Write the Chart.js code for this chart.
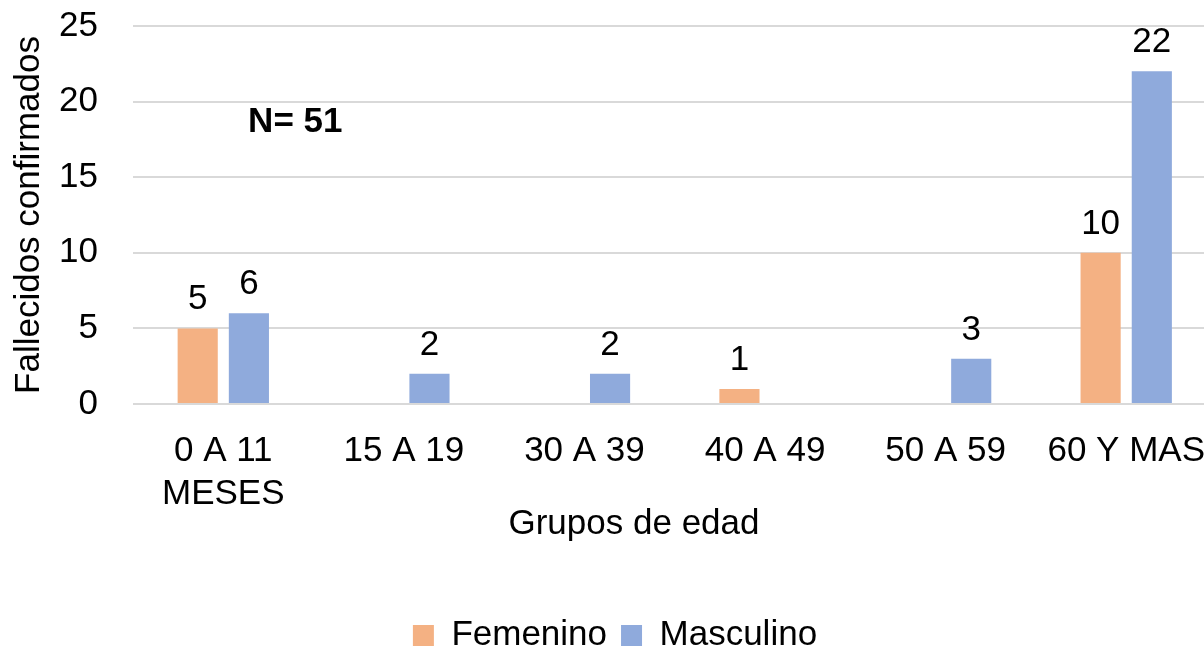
<!DOCTYPE html>
<html lang="es">
<head>
    <meta charset="UTF-8">
    <title>Fallecidos por grupos de edad</title>
    <script src="https://cdn.jsdelivr.net/npm/chart.js@4.4.0/dist/chart.umd.min.js"></script>
    <style>
        body { margin: 0; overflow: hidden; background: #fff; }
        #wrap { width: 1222px; height: 649px; }
    </style>
</head>
<body>
    <div id="wrap">
        <canvas id="grafico" width="1222" height="649"></canvas>
    </div>

    <script>
        // datos
        const grupos = [['0 A 11', 'MESES'], '15 A 19', '30 A 39', '40 A 49', '50 A 59', '60 Y MAS'];
        const femenino = [5, null, null, 1, null, 10];
        const masculino = [6, 2, 2, null, 3, 22];
        const ticksY = [0, 5, 10, 15, 20, 25];
        const nota = 'N= 51';
        const tituloX = 'Grupos de edad';
        const tituloY = 'Fallecidos confirmados';

        const fuente = '"Liberation Sans Narrow", "Arial Narrow", "Liberation Sans", sans-serif';
        const tam = 35;

        // etiquetas encima de las barras + nota N y titulo del eje x
        const etiquetas = {
            id: 'etiquetas',
            afterDatasetsDraw(chart) {
                const ctx = chart.ctx;
                ctx.save();
                ctx.fillStyle = '#000';
                ctx.font = tam + 'px ' + fuente;
                ctx.textAlign = 'center';
                ctx.textBaseline = 'alphabetic';
                chart.data.datasets.forEach((ds, i) => {
                    chart.getDatasetMeta(i).data.forEach((bar, j) => {
                        const v = ds.data[j];
                        if (v === null) return;
                        ctx.fillText(v, bar.x, bar.y - 19);
                    });
                });

                const x = chart.scales.x, y = chart.scales.y;
                ctx.font = 'bold ' + tam + 'px ' + fuente;
                ctx.textBaseline = 'middle';
                ctx.fillText(nota, x.getPixelForValue(0) + 72, y.getPixelForValue(18.6));

                ctx.font = tam + 'px ' + fuente;
                ctx.fillText(tituloX, chart.chartArea.left + 501, 524);
                ctx.restore();
            }
        };

        const ctx = document.getElementById('grafico').getContext('2d');
        const chart = new Chart(ctx, {
            type: 'bar',
            data: {
                labels: grupos,
                datasets: [{
                    label: 'Femenino',
                    data: femenino,
                    backgroundColor: '#F4B183',
                    categoryPercentage: 0.567,
                    barPercentage: 0.784
                },
                {
                    label: 'Masculino',
                    data: masculino,
                    backgroundColor: '#8FAADC',
                    categoryPercentage: 0.567,
                    barPercentage: 0.784
                }]
            },
            options: {
                responsive: false,
                animation: false,
                layout: { padding: { left: 8, right: 0, top: 26, bottom: -14 } },
                plugins: {
                    tooltip: { enabled: false },
                    legend: {
                        position: 'bottom',
                        labels: {
                            color: '#000',
                            font: { family: fuente, size: tam },
                            boxWidth: 21,
                            boxHeight: 21,
                            padding: 14
                        }
                    }
                },
                scales: {
                    x: {
                        grid: { display: false },
                        border: { display: false },
                        ticks: {
                            color: '#000',
                            font: { family: fuente, size: tam, lineHeight: 1.25 },
                            padding: 17,
                            maxRotation: 0,
                            autoSkip: false
                        },
                        afterFit(scale) { scale.height = 200; }
                    },
                    y: {
                        min: 0,
                        max: 25,
                        afterBuildTicks(scale) { scale.ticks = ticksY.map(v => ({ value: v })); },
                        grid: { color: '#d9d9d9', lineWidth: 2, drawTicks: false },
                        border: { display: false },
                        ticks: {
                            color: '#000',
                            font: { family: fuente, size: tam, lineHeight: 1.0 },
                            padding: 35
                        },
                        title: {
                            display: true,
                            text: tituloY,
                            color: '#000',
                            font: { family: fuente, size: tam },
                            padding: 0
                        },
                        afterFit(scale) {
                            scale.width = 125;
                            scale.paddingTop = 0;
                            scale.paddingBottom = 0;
                        }
                    }
                }
            },
            plugins: [etiquetas]
        });
    </script>
</body>
</html>
